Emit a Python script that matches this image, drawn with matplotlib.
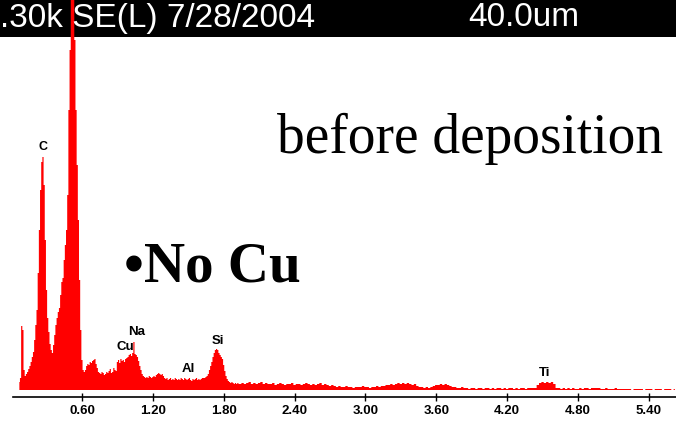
import numpy as np
import matplotlib
matplotlib.use("Agg")
import matplotlib.pyplot as plt
from matplotlib.patches import Rectangle

# EDS spectrum, counts (arbitrary units)
# fine channels 0.07 - 1.94 keV, step 0.01
fine_start, fine_step = 0.07, 0.01
fine_counts = [
    8, 12, 64, 60, 20, 14, 16, 18, 21, 24,            # 0.07-0.16
    28, 33, 38, 50, 65, 80, 117, 160, 200, 228,       # 0.17-0.26
    233, 205, 150, 100, 72, 58, 46, 40, 37, 45,       # 0.27-0.36
    55, 65, 72, 78, 82, 95, 108, 112, 130, 145,       # 0.37-0.46
    160, 195, 280, 340, 420, 470, 450, 350, 280, 225, # 0.47-0.56
    170, 110, 60, 30, 20, 18, 20, 24, 26, 25,         # 0.57-0.66
    28, 27, 29, 30, 31, 26, 22, 18, 17, 16,           # 0.67-0.76
    18, 17, 15, 16, 18, 17, 19, 21, 17, 18,           # 0.77-0.86
    22, 20, 19, 28, 30, 27, 31, 29, 30, 28,           # 0.87-0.96
    31, 32, 33, 35, 36, 34, 37, 48, 36, 35,           # 0.97-1.06
    33, 29, 24, 20, 16, 14, 13, 12, 13, 12,           # 1.07-1.16
    14, 13, 12, 13, 14, 13, 15, 16, 17, 16,           # 1.17-1.26
    15, 16, 14, 12, 11, 12, 10, 11, 12, 10,           # 1.27-1.36
    11, 10, 12, 11, 10, 11, 10, 12, 11, 10,           # 1.37-1.46
    12, 11, 10, 11, 12, 10, 9, 11, 10, 11,            # 1.47-1.56
    12, 10, 11, 10, 11, 12, 12, 12, 13, 14,           # 1.57-1.66
    16, 20, 24, 28, 33, 37, 40, 41, 40, 37,           # 1.67-1.76
    35, 33, 31, 25, 19, 14, 11, 9, 8, 7,              # 1.77-1.86
    8, 7, 6, 7, 6, 7, 6, 6,                           # 1.87-1.94
]
# coarse channels 1.96 - 5.62 keV, step 0.02
coarse_start, coarse_step = 1.96, 0.02
coarse_counts = [
    7, 6, 7, 8, 6, 7, 6, 7, 8, 6,
    7, 6, 6, 7, 5, 6, 7, 6, 5, 6,
    6, 7, 5, 6, 6, 5, 6, 7, 6, 5,
    6, 5, 6, 7, 5, 6, 5, 4, 5, 4,
    3, 4, 3, 3, 4, 3, 3, 2, 3, 3,
    3, 4, 3, 3, 2, 3, 3, 4, 3, 4,
    4, 5, 5, 6, 5, 6, 7, 6, 7, 6,
    7, 6, 5, 6, 4, 3, 3, 2, 3, 2,
    3, 4, 5, 5, 6, 5, 6, 5, 4, 3,
    3, 2, 2, 3, 2, 2, 1, 2, 2, 1,
    2, 2, 1, 2, 2, 1, 2, 1, 2, 2,
    1, 2, 1, 2, 2, 1, 2, 1, 2, 2,
    1, 2, 2, 2, 2, 5, 7, 8, 7, 8,
    7, 8, 6, 2, 2, 1, 2, 1, 2, 1,
    2, 1, 1, 2, 1, 2, 2, 1, 2, 2,
    2, 2, 1, 1, 2, 1, 1, 1, 2, 1,
    1, 1, 1, 1, 1, 0, 1, 1, 1, 1,
    0, 1, 1, 1, 0, 1, 1, 1, 0, 1,
    1, 1, 0, 1,
]

peak_names = ["C", "Cu", "Na", "Al", "Si", "Ti"]
peak_kev = [0.27, 0.965, 1.066, 1.498, 1.752, 4.52]
tick_kev = [0.60, 1.20, 1.80, 2.40, 3.00, 3.60, 4.20, 4.80, 5.40]

energy = np.concatenate([
    fine_start + fine_step * np.arange(len(fine_counts)),
    coarse_start + coarse_step * np.arange(len(coarse_counts)),
])
counts = np.array(fine_counts + coarse_counts, dtype=float)

W, H = 676, 424
fig = plt.figure(figsize=(W / 100, H / 100), dpi=100)
fig.patch.set_facecolor("white")

# black header bar
fig.add_artist(Rectangle((0, 1 - 37 / H), 1, 37 / H, transform=fig.transFigure,
                         facecolor="black", edgecolor="none", zorder=-1))

ax = fig.add_axes([0, 27 / H, 1, 397 / H])
ax.set_facecolor("none")
ax.fill_between(energy, counts, step="mid", color="#ff0000", lw=0)

ax.set_xlim(-11.1 / 118.1, (W - 11.1) / 118.1)
ax.set_ylim(-7, 390)
for s in ["top", "left", "right"]:
    ax.spines[s].set_visible(False)
ax.spines["bottom"].set_bounds(0.016, 5.63)
ax.spines["bottom"].set_linewidth(1.2)
ax.set_yticks([])
ax.set_xticks(tick_kev)
ax.set_xticklabels([f"{t:.2f}" for t in tick_kev], fontfamily="Liberation Sans",
                   fontweight="bold", fontsize=9.5)
ax.tick_params(axis="x", direction="inout", length=6, width=1, pad=2.5)

# peak labels
label_y = [243, 43, 58, 21, 49, 17]
for name, e, yy in zip(peak_names, peak_kev, label_y):
    ax.text(e, yy, name, ha="center", va="center", fontsize=9.5 if name != "C" else 9,
            fontweight="bold", fontfamily="Liberation Sans", color="black")

# header texts
fig.text(0, 1 - 18 / H, ".30k SE(L) 7/28/2004", color="white", fontsize=24,
         fontfamily="Liberation Sans", ha="left", va="center")
fig.text(468 / W, 1 - 18 / H, "40.0um", color="white", fontsize=24,
         fontfamily="Liberation Sans", ha="left", va="center")

fig.text(663 / W, 1 - 153 / H, "before deposition", fontsize=40,
         fontfamily="Liberation Serif", ha="right", va="baseline")
fig.text(124 / W, 1 - 282 / H, "\u2022No Cu", fontsize=41, fontweight="bold",
         fontfamily="Liberation Serif", ha="left", va="baseline")

fig.savefig("out.png", dpi=100)
